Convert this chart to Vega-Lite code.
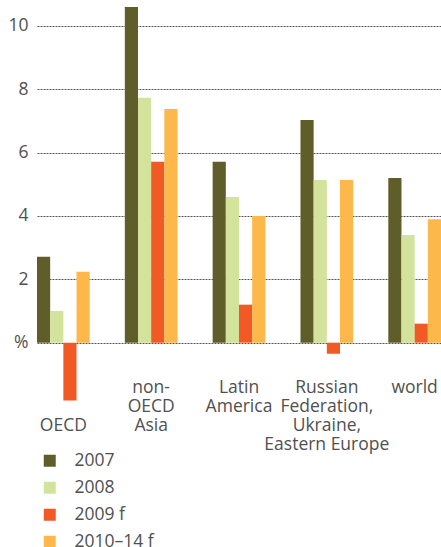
{
  "$schema": "https://vega.github.io/schema/vega-lite/v6.json",
  "width": 404,
  "height": 406,
  "autosize": {"type": "none"},
  "padding": {"left": 37, "top": 0, "right": 0, "bottom": 141},
  "background": "white",
  "config": {
    "view": {"stroke": null},
    "font": "Open Sans",
    "axis": {"labelFont": "Open Sans", "labelFontSize": 17.5, "labelColor": "#505050", "labelFontWeight": "normal"}
  },
  "data": {
    "values": [
      {"region": "OECD", "year": "2007", "value": 2.71},
      {"region": "OECD", "year": "2008", "value": 1.0},
      {"region": "OECD", "year": "2009 f", "value": -1.83},
      {"region": "OECD", "year": "2010–14 f", "value": 2.24},
      {"region": "non-OECD Asia", "year": "2007", "value": 10.6},
      {"region": "non-OECD Asia", "year": "2008", "value": 7.73},
      {"region": "non-OECD Asia", "year": "2009 f", "value": 5.71},
      {"region": "non-OECD Asia", "year": "2010–14 f", "value": 7.38},
      {"region": "Latin America", "year": "2007", "value": 5.71},
      {"region": "Latin America", "year": "2008", "value": 4.6},
      {"region": "Latin America", "year": "2009 f", "value": 1.2},
      {"region": "Latin America", "year": "2010–14 f", "value": 4.0},
      {"region": "Russian Federation, Ukraine, Eastern Europe", "year": "2007", "value": 7.03},
      {"region": "Russian Federation, Ukraine, Eastern Europe", "year": "2008", "value": 5.14},
      {"region": "Russian Federation, Ukraine, Eastern Europe", "year": "2009 f", "value": -0.35},
      {"region": "Russian Federation, Ukraine, Eastern Europe", "year": "2010–14 f", "value": 5.14},
      {"region": "world", "year": "2007", "value": 5.2},
      {"region": "world", "year": "2008", "value": 3.4},
      {"region": "world", "year": "2009 f", "value": 0.6},
      {"region": "world", "year": "2010–14 f", "value": 3.9}
    ]
  },
  "mark": {"type": "bar"},
  "encoding": {
    "x": {
      "field": "region",
      "type": "nominal",
      "sort": null,
      "scale": {"paddingInner": 0.4, "paddingOuter": 0},
      "axis": {
        "title": null,
        "domain": false,
        "ticks": false,
        "labelAngle": 0,
        "offset": -30,
        "labelPadding": {"condition": {"test": "datum.value == 'OECD'", "value": 40}, "value": 2},
        "labelBaseline": "top",
        "labelLineHeight": 19,
        "labelExpr": "datum.value == 'OECD' ? 'OECD' : datum.value == 'non-OECD Asia' ? ['non-', 'OECD', 'Asia'] : datum.value == 'Latin America' ? ['Latin', 'America'] : datum.value == 'world' ? ['world'] : ['Russian', 'Federation,', 'Ukraine,', 'Eastern Europe']"
      }
    },
    "xOffset": {
      "field": "year",
      "type": "nominal",
      "sort": null,
      "scale": {"paddingInner": 0, "paddingOuter": 0}
    },
    "y": {
      "field": "value",
      "type": "quantitative",
      "scale": {"domain": [-2, 10.82], "nice": false, "zero": false},
      "axis": {
        "title": null,
        "domain": false,
        "ticks": false,
        "values": [0, 2, 4, 6, 8, 10],
        "labelPadding": 9,
        "labelExpr": "datum.value == 0 ? '%' : datum.label",
        "grid": true,
        "gridColor": "#555555",
        "gridDash": [2, 1],
        "gridWidth": 1,
        "gridOpacity": 1
      }
    },
    "color": {
      "field": "year",
      "type": "nominal",
      "sort": null,
      "scale": {
        "domain": ["2007", "2008", "2009 f", "2010–14 f"],
        "range": ["#5f5e2a", "#d3e39b", "#f15a24", "#fdb84c"]
      },
      "legend": {
        "title": null,
        "orient": "none",
        "legendX": 4,
        "legendY": 452,
        "direction": "vertical",
        "symbolType": "square",
        "symbolSize": 144,
        "symbolStrokeWidth": 0,
        "symbolOpacity": 1,
        "labelFont": "Open Sans",
        "labelFontSize": 17.5,
        "labelFontWeight": "normal",
        "labelColor": "#505050",
        "labelOffset": 16,
        "rowPadding": 8,
        "padding": 0
      }
    }
  }
}
